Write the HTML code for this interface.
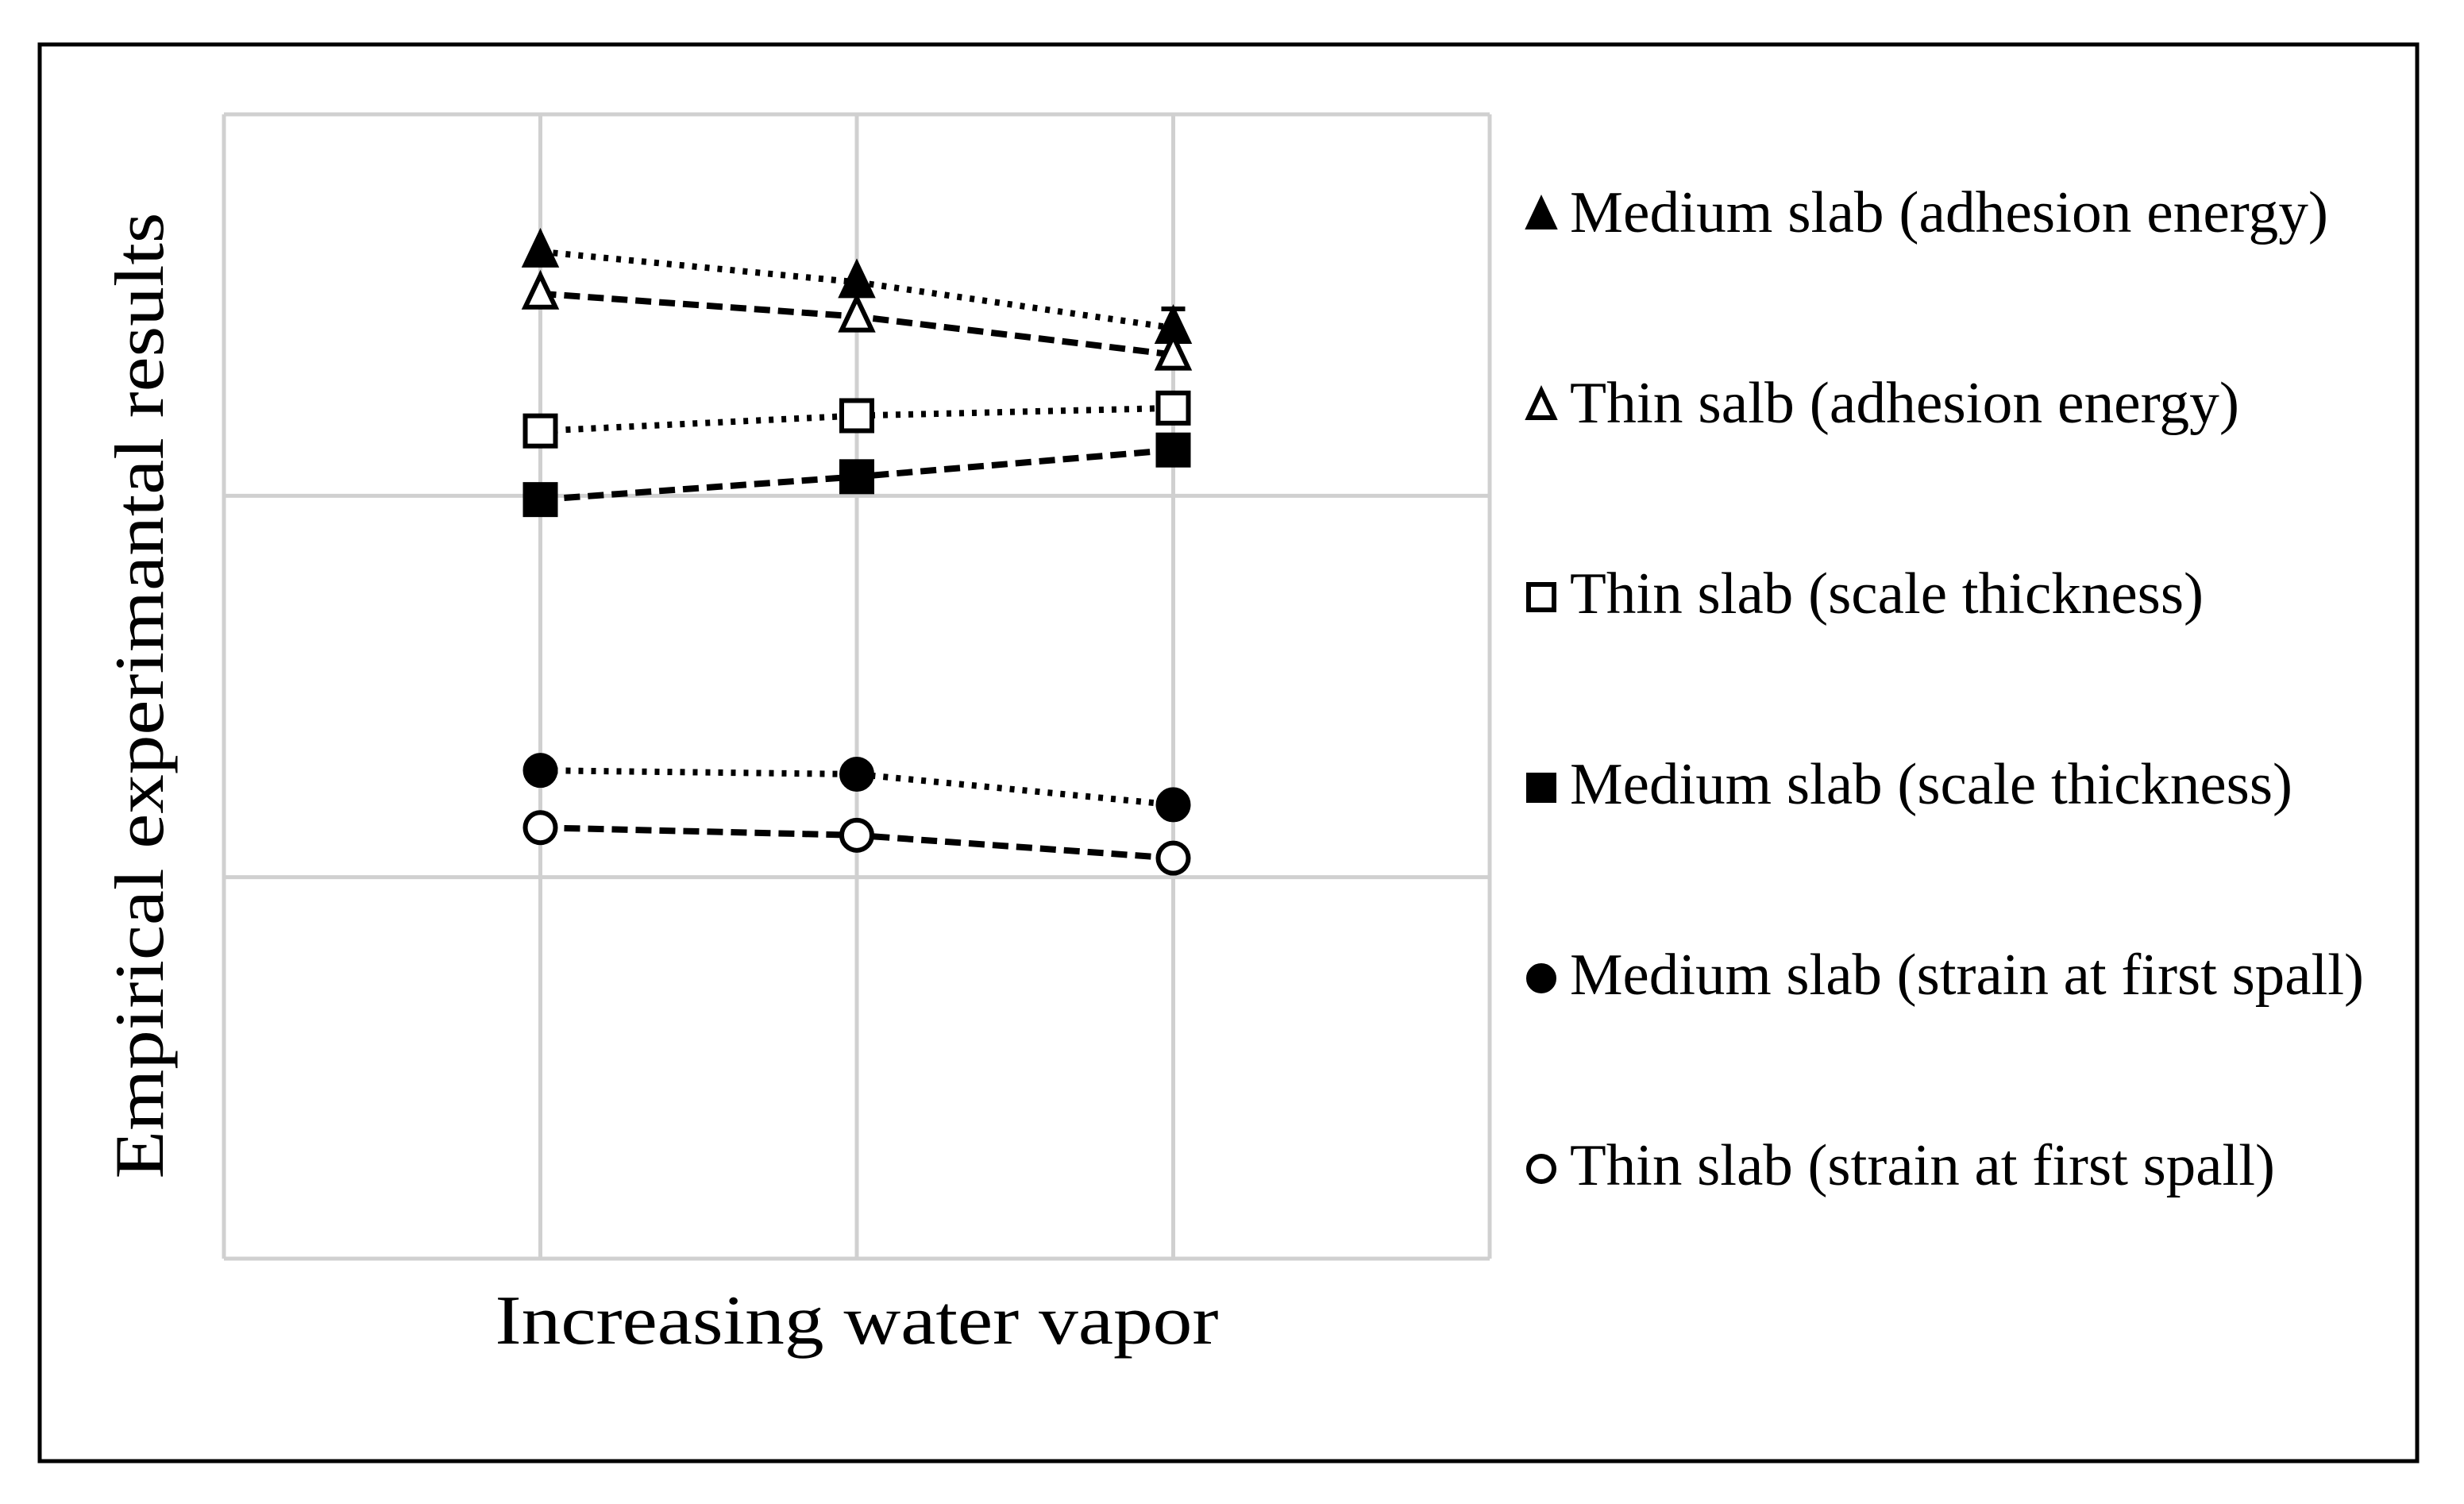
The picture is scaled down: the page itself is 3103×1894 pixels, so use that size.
<!DOCTYPE html>
<html><head><meta charset="utf-8"><style>html,body{margin:0;padding:0;background:#fff}svg{display:block}</style></head>
<body>
<svg id="chart" width="3103" height="1894" viewBox="0 0 3103 1894" xmlns="http://www.w3.org/2000/svg" font-family="Liberation Serif, serif">
<rect x="50" y="56" width="2994" height="1784" fill="#fff" stroke="#000" stroke-width="5"/>
<g id="grid"></g>
<g id="series"></g>
<text transform="translate(205,876) rotate(-90)" text-anchor="middle" font-size="88" textLength="1217" lengthAdjust="spacingAndGlyphs">Empirical experimantal results</text>
<text x="1079" y="1692" text-anchor="middle" font-size="88" textLength="911" lengthAdjust="spacingAndGlyphs">Increasing water vapor</text>
<g id="legend"></g>
</svg>
<script>
const categories = [1, 2, 3];
const medAdhesion = [2.64, 2.56, 2.44];
const thinAdhesion = [2.53, 2.47, 2.37];
const thinScale = [2.17, 2.21, 2.23];
const medScale = [1.99, 2.05, 2.12];
const medStrain = [1.28, 1.27, 1.19];
const thinStrain = [1.13, 1.11, 1.05];
const yTicks = [0, 1, 2, 3];
const xGrid = [1, 2, 3];
const legendLabels = ["Medium slab (adhesion energy)","Thin salb (adhesion energy)","Thin slab (scale thickness)","Medium slab (scale thickness)","Medium slab (strain at first spall)","Thin slab (strain at first spall)"];

const NS = "http://www.w3.org/2000/svg";
const PL = 282, PR = 1876, PT = 144, PB = 1585;
const xs = v => PL + (v / 4) * (PR - PL);
const ys = v => PB - (v / 3) * (PB - PT);
function mk(tag, attrs, parent) { const e = document.createElementNS(NS, tag); for (const k in attrs) e.setAttribute(k, attrs[k]); parent.appendChild(e); return e; }

const grid = document.getElementById('grid');
yTicks.forEach(t => {
  const l = mk('line', {x1: PL, x2: PR, y1: ys(t), y2: ys(t), stroke: '#d0d0d0', 'stroke-width': 5}, grid);
  
  
});
[0, 4].concat(xGrid).forEach(t => {
  const l = mk('line', {x1: xs(t), x2: xs(t), y1: PT, y2: PB, stroke: '#d0d0d0', 'stroke-width': 5}, grid);
  
  
});

function marker(type, x, y, parent, s) {
  let e;
  if (type === 'tri' || type === 'otri') {
    e = mk('polygon', {points: `${x},${y - s - 4} ${x - s},${y + s - 2} ${x + s},${y + s - 2}`, fill: type === 'tri' ? '#000' : '#fff', stroke: '#000', 'stroke-width': 6}, parent);
  } else if (type === 'sq' || type === 'osq') {
    e = mk('rect', {x: x - s, y: y - s, width: 2 * s, height: 2 * s, fill: type === 'sq' ? '#000' : '#fff', stroke: '#000', 'stroke-width': 6}, parent);
  } else {
    e = mk('circle', {cx: x, cy: y, r: s, fill: type === 'circ' ? '#000' : '#fff', stroke: '#000', 'stroke-width': 6}, parent);
  }
  return e;
}

const seriesDefs = [
  {vals: medAdhesion, m: 'tri', dash: '6 10', name: 'medium-adhesion'},
  {vals: thinAdhesion, m: 'otri', dash: '20 10', name: 'thin-adhesion'},
  {vals: thinScale, m: 'osq', dash: '6 10', name: 'thin-scale'},
  {vals: medScale, m: 'sq', dash: '20 10', name: 'medium-scale'},
  {vals: medStrain, m: 'circ', dash: '6 10', name: 'medium-strain'},
  {vals: thinStrain, m: 'ocirc', dash: '20 10', name: 'thin-strain'}
];
const sg = document.getElementById('series');
seriesDefs.forEach(sd => {
  const g = mk('g', {}, sg);
  
  
  const pts = sd.vals.map((v, i) => xs(categories[i]) + ',' + ys(v)).join(' ');
  const pl = mk('polyline', {points: pts, fill: 'none', stroke: '#000', 'stroke-width': 8, 'stroke-dasharray': sd.dash}, g);
  
  
  sd.vals.forEach((v, i) => {
    const e = marker(sd.m, xs(categories[i]), ys(v), g, 19);
    
    
  });
});
{
  const x = xs(categories[2]), y = ys(medAdhesion[2]);
  const eb = mk('path', {d: `M${x - 15},${y - 24} H${x + 15} M${x},${y - 24} V${y}`, stroke: '#000', 'stroke-width': 6, fill: 'none'}, sg);
  
  
}

const lg = document.getElementById('legend');
const legendWidths = [955, 843, 798, 910, 1000, 888];
legendLabels.forEach((lab, i) => {
  const by = 292 + i * 240;
  const g = mk('g', {}, lg);
  
  
  const m = marker(seriesDefs[i].m, 1941, by - 20, g, 16);
  
  
  const t = mk('text', {x: 1977, y: by, 'font-size': 74, textLength: legendWidths[i], lengthAdjust: 'spacingAndGlyphs'}, g);
  t.textContent = lab;
  
  
});
</script>
</body></html>
